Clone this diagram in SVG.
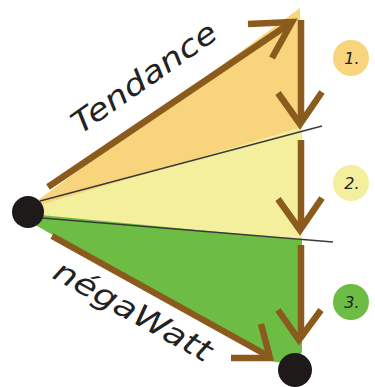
<svg xmlns="http://www.w3.org/2000/svg" width="375" height="387" viewBox="0 0 375 387">
<style>
.br{stroke:#8b5a1d;stroke-width:6.5;stroke-linecap:butt;stroke-linejoin:miter;fill:none}
.dv{stroke:#3a3a3a;stroke-width:1.5;fill:none}
.hand{font-family:"DejaVu Sans","Liberation Sans",sans-serif;font-style:italic;fill:#222}
.num{font-family:"DejaVu Sans","Liberation Sans",sans-serif;font-style:italic;font-size:16px;fill:#222}
</style>
<rect width="375" height="387" fill="#ffffff"/>
<g id="areas">
<polygon points="30,206 300,8 302,128 30,210" fill="#f8d47c"/>
<polygon points="30,208 302,127 302,241 30,216" fill="#f4ef9d"/>
<polygon points="30,214 302,240 302,352 296,364 275,362 30,222" fill="#6dbd44"/>
</g>
<g id="dividers">
<line class="dv" x1="40" y1="201" x2="322" y2="126"/>
<line class="dv" x1="42" y1="218" x2="333" y2="242"/>
</g>
<g id="connectors">
<line class="br" x1="48" y1="187" x2="292" y2="22"/>
<polyline class="br" points="248,24 292,22 272,58"/>
<line class="br" x1="301" y1="20" x2="301" y2="122"/>
<polyline class="br" points="278,93 300,124 322,92"/>
<line class="br" x1="301" y1="140" x2="301" y2="228"/>
<polyline class="br" points="278,199 300,230 322,198"/>
<line class="br" x1="301" y1="245" x2="301" y2="338"/>
<polyline class="br" points="278,310 299,340 321,310"/>
<line class="br" x1="52" y1="236" x2="270" y2="357"/>
<polyline class="br" points="261,324 270,358 231,358"/>
</g>
<g id="node-start"><circle cx="28" cy="212" r="16" fill="#1e1a1a"/></g>
<g id="node-end"><circle cx="295" cy="370" r="17" fill="#1e1a1a"/></g>
<g id="label-tendance"><text class="hand" font-size="30" transform="translate(150,86) rotate(-35)" text-anchor="middle" textLength="170" lengthAdjust="spacingAndGlyphs">Tendance</text></g>
<g id="label-negawatt"><text class="hand" font-size="30" transform="translate(128,320) rotate(29)" text-anchor="middle" textLength="176" lengthAdjust="spacingAndGlyphs">négaWatt</text></g>
<g id="step1"><circle cx="351" cy="58" r="18" fill="#f8d47c"/><text class="num" x="352" y="64" text-anchor="middle">1.</text></g>
<g id="step2"><circle cx="351" cy="183" r="18" fill="#f4ef9d"/><text class="num" x="352" y="189" text-anchor="middle">2.</text></g>
<g id="step3"><circle cx="351" cy="302" r="18" fill="#6dbd44"/><text class="num" x="352" y="308" text-anchor="middle">3.</text></g>
</svg>
